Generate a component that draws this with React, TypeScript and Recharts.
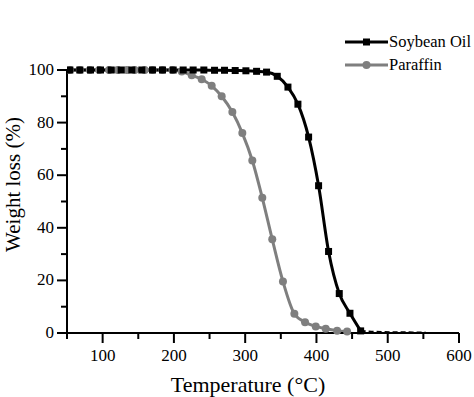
import React from "react"
import {
  LineChart,
  Line,
  XAxis,
  YAxis,
  Legend
} from "recharts"

// soybean oil TGA curve (°C, %)
const soyTemps = [54, 68, 83, 97, 112, 126, 141, 155, 170, 184, 199, 213, 227, 242, 257, 271, 286, 301, 316, 330, 345, 360, 374, 389, 403, 417, 432, 447, 462]
const soyWeights = [100, 100, 100, 100, 100, 100, 100, 100, 100, 100, 100, 100, 100, 100, 99.9, 99.9, 99.8, 99.7, 99.5, 99.2, 97.6, 93.5, 87, 74.5, 56, 31, 15, 7.5, 0.8]

// residue after full decomposition (drawn dashed)
const soyTailTemps = [462, 477, 491, 506, 520, 535, 553]
const soyTailWeights = [0.8, 0.5, 0.4, 0.3, 0.3, 0.2, 0.2]

// paraffin TGA curve
const paraffinTemps = [54, 68, 82, 95, 109, 121, 134, 145, 159, 170, 184, 198, 211, 225, 239, 253, 267, 282, 296, 310, 324, 338, 353, 369, 384, 399, 413, 429, 443]
const paraffinWeights = [100, 100, 100, 100, 100, 100, 100, 100, 100, 100, 100, 100, 99.4, 98, 96.5, 94, 90, 84, 76, 65.6, 51.4, 35.6, 19.6, 7.3, 4.1, 2.5, 1.6, 0.9, 0.6]

const xTicks = [50, 100, 150, 200, 250, 300, 350, 400, 450, 500, 550, 600]
const yTicks = [0, 10, 20, 30, 40, 50, 60, 70, 80, 90, 100]

const soyData = soyTemps.map((t, i) => ({ t, w: soyWeights[i] }))
const soyTailData = soyTailTemps.map((t, i) => ({ t, w: soyTailWeights[i] }))
const paraffinData = paraffinTemps.map((t, i) => ({ t, w: paraffinWeights[i] }))

const FONT = '"Liberation Serif", "Times New Roman", serif'
const GRAY = "#7f7f7f"
const textStyle = { fontFamily: FONT }

const SquareDot = (props: any) => {
  const { cx, cy, index } = props
  if (cx == null || cy == null) return <g key={index} />
  return <rect key={index} x={cx - 3.5} y={cy - 3.5} width={7} height={7} fill="#000" />
}

const XTick = (props: any) => {
  const { x, y, payload } = props
  const major = payload.value % 100 === 0
  return (
    <g>
      <line x1={x} y1={y} x2={x} y2={y + (major ? 10 : 6)} stroke="#000" strokeWidth={2} />
      {major && (
        <text x={x} y={y + 28} textAnchor="middle" fontSize={17} style={textStyle} fill="#000">
          {payload.value}
        </text>
      )}
    </g>
  )
}

const YTick = (props: any) => {
  const { x, y, payload } = props
  const major = payload.value % 20 === 0
  return (
    <g>
      <line x1={x} y1={y} x2={x - (major ? 10 : 6)} y2={y} stroke="#000" strokeWidth={2} />
      {major && (
        <text x={x - 13} y={y + 5} textAnchor="end" fontSize={17} style={textStyle} fill="#000">
          {payload.value}
        </text>
      )}
    </g>
  )
}

const YLabel = (props: any) => {
  const { viewBox } = props
  const x = viewBox.x + 13
  const y = viewBox.y + viewBox.height / 2 - 17
  return (
    <text x={x} y={y} transform={`rotate(-90, ${x}, ${y})`} textAnchor="middle" dominantBaseline="central" fontSize={21} style={textStyle} fill="#000">
      Weight loss (%)
    </text>
  )
}

const legendItems = [
  { name: "Soybean Oil", color: "#000", marker: "square" },
  { name: "Paraffin", color: GRAY, marker: "circle" }
]

const LegendContent = () => (
  <svg width={131} height={50}>
    {legendItems.map((item, i) => {
      const cy = 10 + i * 23
      return (
        <g key={item.name}>
          <line x1={2} y1={cy} x2={45} y2={cy} stroke={item.color} strokeWidth={3} />
          {item.marker === "square"
            ? <rect x={20} y={cy - 3.5} width={7} height={7} fill={item.color} />
            : <circle cx={23.5} cy={cy} r={4} fill={item.color} />}
          <text x={46} y={cy + 5} fontSize={16.5} style={textStyle} fill="#000">{item.name}</text>
        </g>
      )
    })}
  </svg>
)

export default function App() {
  return (
    <div style={{ position: "absolute", left: 0, top: 0, background: "#fff" }}>
      <LineChart width={474} height={397} margin={{ top: 16, right: 15, left: 0, bottom: 0 }}>
        <XAxis
          type="number"
          dataKey="t"
          domain={[50, 600]}
          ticks={xTicks}
          interval={0}
          tickSize={0}
          tickMargin={0}
          tick={<XTick />}
          height={64}
          axisLine={{ stroke: "#000", strokeWidth: 2 }}
          allowDataOverflow
          label={{ value: "Temperature (°C)", position: "insideBottom", offset: 5, dx: -15, fontSize: 22, style: textStyle, fill: "#000" }}
        />
        <YAxis
          type="number"
          domain={[0, 100]}
          ticks={yTicks}
          interval={0}
          tickSize={0}
          tickMargin={0}
          tick={<YTick />}
          width={67}
          axisLine={{ stroke: "#000", strokeWidth: 2 }}
          label={<YLabel />}
        />
        <Legend
          verticalAlign="top"
          align="right"
          content={<LegendContent />}
          wrapperStyle={{ top: 32, left: 343, width: 131 }}
        />
        <Line
          data={soyTailData}
          dataKey="w"
          type="linear"
          stroke="#000"
          strokeWidth={2}
          strokeDasharray="5 3"
          dot={false}
          legendType="none"
          isAnimationActive={false}
        />
        <Line
          data={paraffinData}
          dataKey="w"
          name="Paraffin"
          type="monotone"
          stroke={GRAY}
          strokeWidth={3}
          dot={{ r: 4, fill: GRAY, stroke: GRAY, strokeWidth: 0 }}
          isAnimationActive={false}
        />
        <Line
          data={soyData}
          dataKey="w"
          name="Soybean Oil"
          type="monotone"
          stroke="#000"
          strokeWidth={3}
          dot={<SquareDot />}
          isAnimationActive={false}
        />
      </LineChart>
    </div>
  )
}
